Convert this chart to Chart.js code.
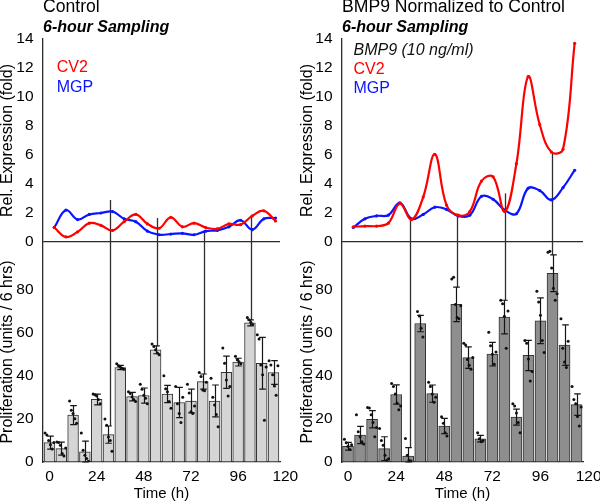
<!DOCTYPE html>
<html>
<head>
<meta charset="utf-8">
<script src="https://cdn.jsdelivr.net/npm/chart.js@4.4.1/dist/chart.umd.min.js"></script>
<style>
html,body{margin:0;padding:0;background:#fff;}
#wrap{position:relative;width:600px;height:503px;overflow:hidden;}
.panel{position:absolute;top:0;width:300px;height:503px;}
</style>
</head>
<body>
<div id="wrap">
  <div class="panel" style="left:0"><canvas id="ctrl"></canvas></div>
  <div class="panel" style="left:300px"><canvas id="bmp"></canvas></div>
</div>
<script>
// ---- data ----
const times = [0,6,12,18,24,30,36,42,48,54,60,66,72,78,84,90,96,102,108,114];
const timeTicks = [0,24,48,72,96,120];
const exprTicks = [0,2,4,6,8,10,12,14];
const prolifTicks = [0,20,40,60,80];
const connTimes = [30,54,78,102];

// Control
const ctrlCV2 = [1.0,0.35,0.7,1.3,1.15,0.8,1.4,1.9,1.25,0.95,1.7,1.05,1.3,1.0,0.9,1.25,1.2,1.8,2.15,1.45];
const ctrlMGP = [1.0,2.2,1.55,1.9,2.0,2.1,1.6,1.4,0.75,0.5,0.55,0.6,0.5,0.75,0.8,1.05,1.5,0.85,1.6,1.65];
const ctrlProlif = [9,6.2,21.7,4.7,29,12.7,43.8,30.3,30.8,52,31.5,27.6,28.3,37.3,28.3,41.6,46.3,64.5,45.8,41.5];
const ctrlSD = [3,3,4.4,5,2.5,4,1,2,3.5,1.8,4,7,5.5,3.5,7.4,7.5,1.8,1.4,12,5.5];
const ctrlDots = [
  [13.5,12.5,10,8,6,9],[9.3,9,7.8,3.9,2.8,6.5],[28.3,24,22.5,20,18],[13.5,5.4,3.1,1.6,0.3],
  [31.5,31.2,30.6,29,27],[19.9,17,11.6,10,5],[45.5,44.6,44,43.5,43],[32.6,31.8,30.3,29,28],
  [36,33.7,31,29.5,27],[54.7,53.6,52,50.5,49.7],[40,34,32.6,28,24.9],[35,27,22.5,18.3,30],
  [36,32,23.3,22.5,26],[41.5,39.6,33.4,33,37],[38.8,30,26.4,22,16.3],[52.8,45.8,38,30.6,35],
  [49,47.4,46.5,45.5],[67,66,64.8,63.7],[59,57,45,40.4,19.4,44],[47,45,40.4,35.2,31,44.6]
];
const ctrlConnFrom = [2.9,1.65,0.8,1.85];

// BMP9
const bmpCV2 = [1.05,1.1,1.1,1.3,2.65,1.55,3.1,6.05,2.55,1.85,2.1,4.2,4.5,2.1,5.4,11.4,8.1,6.2,6.4,13.7];
const bmpMGP = [1.0,1.6,1.8,1.85,2.7,1.6,1.9,2.4,2.25,1.8,1.85,3.15,2.95,2.2,1.95,3.7,3.55,2.9,3.75,4.95];
const bmpProlif = [7.3,12.5,19.8,6.2,31.3,2.7,64.2,31.7,16.7,73.1,48.4,10.8,50,67.2,20.8,49.4,65.5,87.5,54.2,26.6];
const bmpSD = [1.8,4,4,5.5,4.5,4,3.8,4,3.5,8,5,1.5,5.5,7.8,3.7,7,10.6,8.5,9.4,5];
const bmpDots = [
  [10.5,8.9,7.3,5.8,8],[21.9,14,11.7,9.4,8.3],[25.3,25,21.9,18.3,11.7,16],[15.5,10,7.8,3.1,0.8,1.5],
  [36.4,35,31.5,27.3,24.2,26],[10.9,3.1,0.8,0.5],[69.8,67.7,62,58],[37,35,31.5,27.7,30],
  [21,18,13.6,12],[84.8,85.6,73,67,66.4,72.5],[55,54.2,47.5,44.8,43,48.5],[13.6,10.8,9.4,10],
  [60.2,53.9,50,45.3,51],[75,73.4,67.6,52.7,70],[27,26,22.7,18.3,13.6],[56.3,55,47.7,37.5,42],
  [79.2,74.2,68,56.3,50.8],[97.3,97.7,90,80.5,75,78],[66.4,52.7,46.4,43.8,56],[35,29,27,21.1,16.7,25.5]
];
const bmpConnFrom = [1.5,1.95,3.35,6.2];

const ctrlNotes = ["CV2","MGP"];
const bmpNotes = ["BMP9 (10 ng/ml)","CV2","MGP"];

// ---- styling ----
const RED = "#ff0000", BLUE = "#0a14ff", AXIS = "#2b2b2b";
Chart.defaults.font.family = '"Liberation Sans", Arial, sans-serif';
Chart.defaults.color = "#000";

// error bars drawn right after the bars
const errorBars = {
  id:"errorBars",
  afterDatasetDraw(chart, args, opts){
    if(args.meta.type!=="bar") return;
    const {ctx} = chart, x = chart.scales.x, y = chart.scales.yb;
    ctx.save(); ctx.strokeStyle="#151515"; ctx.lineWidth=1.2;
    opts.means.forEach((m,i)=>{
      const px = Math.round(x.getPixelForValue(times[i]))+0.5;
      const lo = y.getPixelForValue(Math.max(0,m-opts.sd[i])), hi = y.getPixelForValue(m+opts.sd[i]);
      ctx.beginPath();
      ctx.moveTo(px,lo); ctx.lineTo(px,hi);
      ctx.moveTo(px-3.3,lo); ctx.lineTo(px+3.3,lo);
      ctx.moveTo(px-3.3,hi); ctx.lineTo(px+3.3,hi);
      ctx.stroke();
    });
    ctx.restore();
  }
};

// vertical lines joining expression samples to proliferation bars
const connectors = {
  id:"connectors",
  beforeDatasetsDraw(chart, args, opts){
    const {ctx} = chart, {x, xt, yt, yb} = chart.scales;
    ctx.save(); ctx.strokeStyle="#2e2e2e"; ctx.lineWidth=1.3;
    connTimes.forEach((t,k)=>{
      const i = times.indexOf(t);
      const px = Math.round((x.getPixelForValue(t)+xt.getPixelForValue(t))/2)+0.5;
      ctx.beginPath();
      ctx.moveTo(px, yt.getPixelForValue(opts.from[k]));
      ctx.lineTo(px, yb.getPixelForValue(opts.means[i]+opts.sd[i]));
      ctx.stroke();
    });
    ctx.restore();
  }
};

// coloured labels inside the expression plot
const notes = {
  id:"notes",
  afterDraw(chart, args, opts){
    const {ctx, chartArea} = chart;
    ctx.save(); ctx.textAlign="left"; ctx.textBaseline="middle";
    opts.lines.forEach((txt,i)=>{
      ctx.font = (opts.italic[i]?"italic ":"")+'16px "Liberation Sans", Arial, sans-serif';
      ctx.fillStyle = opts.colors[i];
      ctx.fillText(txt, chartArea.left+opts.dx, chartArea.top+opts.dy+i*opts.gap);
    });
    ctx.restore();
  }
};

function panel(id, o){
  const dots = [];
  o.dots.forEach((arr,i)=>arr.forEach((v,j)=>dots.push({x:times[i]+(j-(arr.length-1)/2)*0.9, y:v})));
  const pts = arr => times.map((t,i)=>({x:t, y:arr[i]}));
  const setTicks = list => s => { s.ticks = list.map(v=>({value:v})); };

  return new Chart(document.getElementById(id), {
    type:"bar",
    data:{datasets:[
      {type:"scatter", label:"replicates", data:dots, xAxisID:"x", yAxisID:"yb", order:0,
       pointRadius:1.5, pointBackgroundColor:"#111", pointBorderWidth:0},
      {type:"line", label:"CV2", data:pts(o.cv2), xAxisID:"xt", yAxisID:"yt", order:1,
       borderColor:RED, backgroundColor:RED, borderWidth:2.2, tension:0.4, pointRadius:1.6, pointBorderWidth:0},
      {type:"line", label:"MGP", data:pts(o.mgp), xAxisID:"xt", yAxisID:"yt", order:1,
       borderColor:BLUE, backgroundColor:BLUE, borderWidth:2.2, tension:0.4, pointRadius:1.6, pointBorderWidth:0},
      {type:"bar", label:"Proliferation", data:pts(o.prolif), xAxisID:"x", yAxisID:"yb", order:2, grouped:false,
       backgroundColor:o.fill, borderColor:"#333", borderWidth:1, borderSkipped:false, barThickness:o.barW}
    ]},
    options:{
      responsive:true, maintainAspectRatio:false, animation:false,
      layout:{padding:{left:0, right:o.padR, top:0, bottom:0}},
      plugins:{
        legend:{display:false}, tooltip:{enabled:false},
        title:{display:true, text:o.title, align:"start", fullSize:false, color:"#000",
               font:{size:17.6, weight:"normal", lineHeight:1}, padding:{top:-1.3, bottom:0}},
        subtitle:{display:true, text:"6-hour Sampling", align:"start", fullSize:false, color:"#000",
               font:{size:16, weight:"bold", style:"italic", lineHeight:1}, padding:{top:3.5, bottom:3.2}},
        errorBars:{means:o.prolif, sd:o.sd},
        connectors:{from:o.connFrom, means:o.prolif, sd:o.sd},
        notes:o.notes
      },
      scales:{
        x:{type:"linear", position:"bottom", min:o.xMin, max:o.xMax, offset:false,
           afterBuildTicks:setTicks(timeTicks),
           afterFit:s=>{ s.height=41; s.paddingLeft=0; s.paddingRight=0; },
           grid:{display:false, drawTicks:false, offset:false},
           border:{display:true, color:AXIS, width:1.3},
           ticks:{autoSkip:false, maxRotation:0, padding:5.5, font:{size:15.5}},
           title:{display:true, text:"Time (h)", font:{size:15, lineHeight:1.2}, padding:0}},
        xt:{type:"linear", display:false, min:o.xtMin, max:o.xtMax, offset:false, grid:{offset:false}},
        yt:{type:"linear", position:"left", stack:"v", stackWeight:203, weight:1, min:0, max:14,
            afterBuildTicks:setTicks(exprTicks),
            afterFit:s=>{ s.width=o.yW; },
            grid:{drawTicks:false, lineWidth:1.3, color:c=>c.tick && c.tick.value===0 ? AXIS : "rgba(0,0,0,0)"},
            border:{display:true, color:AXIS, width:1.3},
            ticks:{autoSkip:false, padding:9.5, font:{size:15.5}},
            title:{display:true, text:"Rel. Expression (fold)", font:{size:16, lineHeight:1}, padding:0}},
        yb:{type:"linear", position:"left", stack:"v", stackWeight:220, weight:0, min:0, max:102,
            afterBuildTicks:setTicks(prolifTicks),
            afterFit:s=>{ s.width=o.yW; },
            grid:{display:false, drawTicks:false},
            border:{display:true, color:AXIS, width:1.3},
            ticks:{autoSkip:false, padding:9.5, font:{size:15.5}},
            title:{display:true, text:"Proliferation (units / 6 hrs)", font:{size:16, lineHeight:1}, padding:0}}
      }
    },
    plugins:[errorBars, connectors, notes]
  });
}

panel("ctrl", {
  title:"Control", cv2:ctrlCV2, mgp:ctrlMGP, prolif:ctrlProlif, sd:ctrlSD, dots:ctrlDots,
  connFrom:ctrlConnFrom, fill:"#d5d5d5", barW:10.8, padR:20, yW:43,
  xMin:-3.31, xMax:117.3, xtMin:-5.82, xtMax:116.3,
  notes:{lines:ctrlNotes, colors:[RED,BLUE], italic:[false,false], dx:13.7, dy:28.5, gap:20}
});
panel("bmp", {
  title:"BMP9 Normalized to Control", cv2:bmpCV2, mgp:bmpMGP, prolif:bmpProlif, sd:bmpSD, dots:bmpDots,
  connFrom:bmpConnFrom, fill:"#8e8e8e", barW:11, padR:17, yW:42,
  xMin:-3.0, xMax:117.2, xtMin:-5.82, xtMax:118.3,
  notes:{lines:bmpNotes, colors:["#111",RED,BLUE], italic:[true,false,false], dx:11.5, dy:11.5, gap:19.2}
});
</script>
</body>
</html>
